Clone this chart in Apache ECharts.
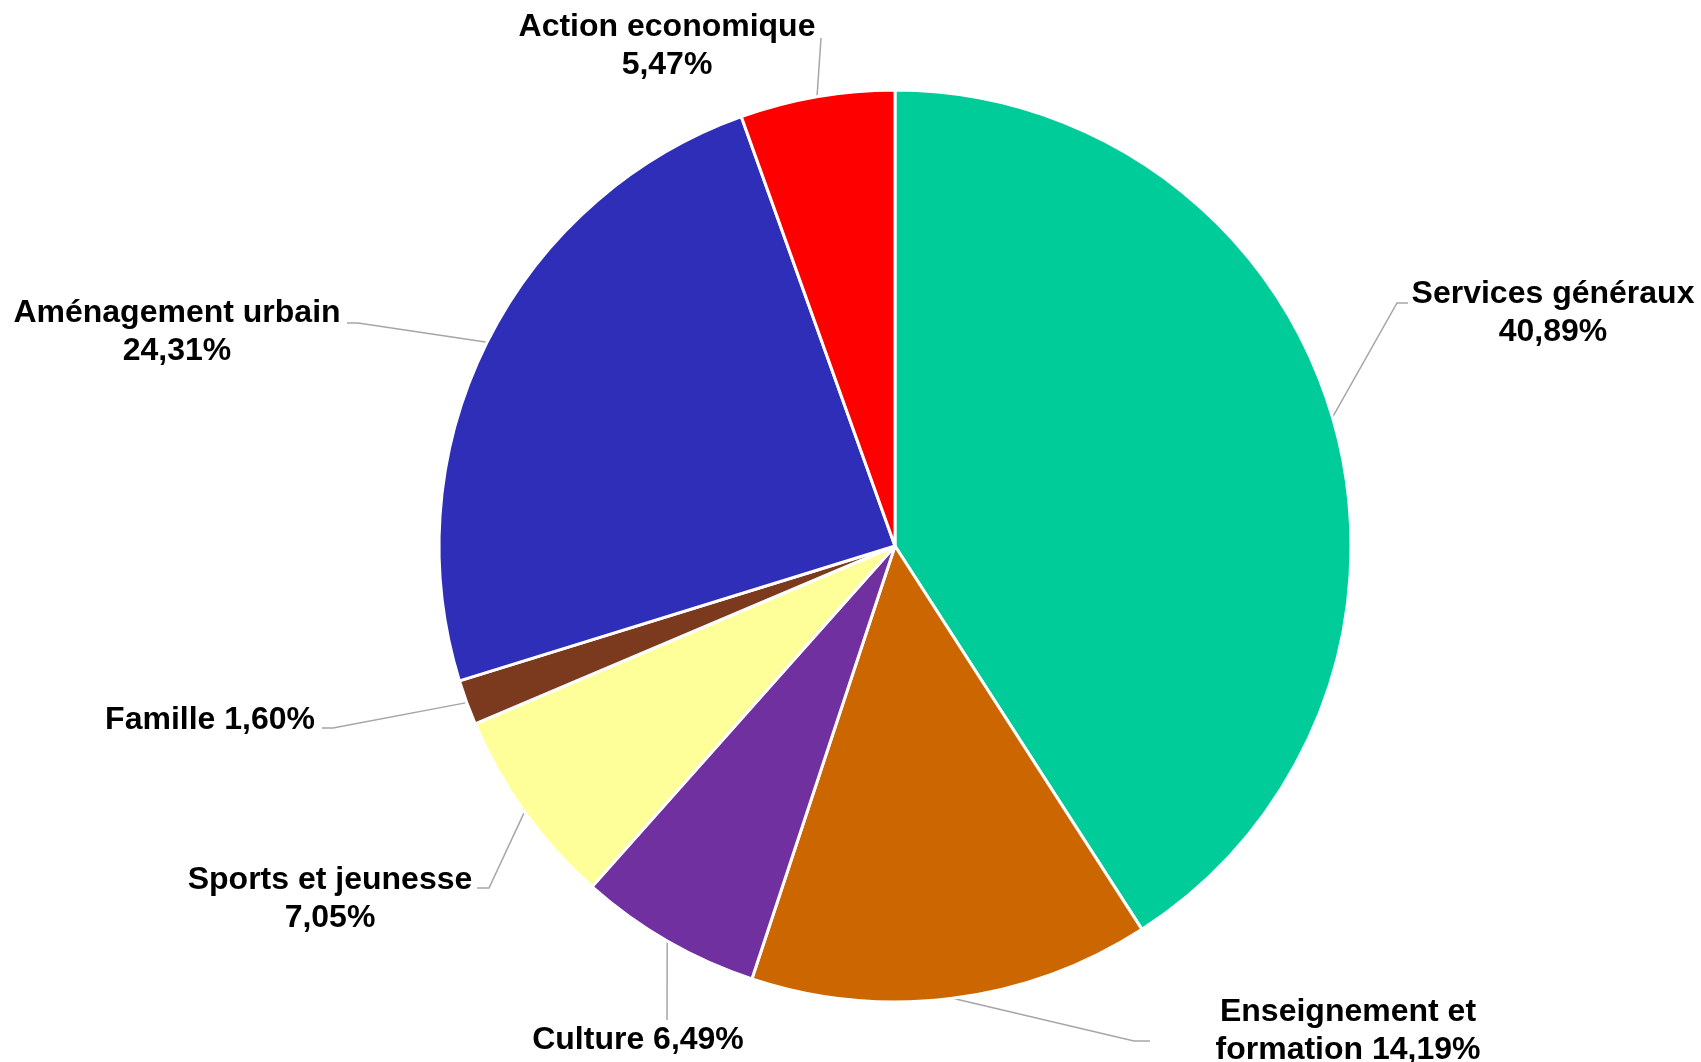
<!DOCTYPE html>
<html>
<head>
<meta charset="utf-8">
<script src="https://cdn.jsdelivr.net/npm/echarts@6/dist/echarts.min.js"></script>
<style>
  html, body { margin: 0; padding: 0; background: #ffffff; }
  #chart { width: 1701px; height: 1062px; }
</style>
</head>
<body>
<div id="chart"></div>
<script>
// ---- data ----
var categories = ['Services généraux', 'Enseignement et formation', 'Culture', 'Sports et jeunesse', 'Famille', 'Aménagement urbain', 'Action economique'];
var labelNames = ['Services généraux', 'Enseignement et\nformation', 'Culture', 'Sports et jeunesse', 'Famille', 'Aménagement urbain', 'Action economique'];
var labelSeps = ['\n', ' ', ' ', '\n', ' ', '\n', '\n'];
var values = [40.89, 14.19, 6.49, 7.05, 1.60, 24.31, 5.47];
var colors = ['#00CC99', '#CC6600', '#7030A0', '#FFFF99', '#7B3A1E', '#2E2EB8', '#FF0000'];

// ---- label placement (pixels) ----
var labelPos = [
  { x: 1553, y: 313, align: 'center', elbow: [1397, 303], end: [1408, 303] },
  { x: 1348, y: 1031, align: 'center', elbow: [1134, 1041], end: [1150, 1041] },
  { x: 638, y: 1040, align: 'center', elbow: [667, 1020], end: [667, 1020] },
  { x: 330, y: 899, align: 'center', elbow: [489, 888], end: [477, 888] },
  { x: 315, y: 720, align: 'right', elbow: [333, 728], end: [322, 728] },
  { x: 177, y: 332, align: 'center', elbow: [358, 323], end: [347, 323] },
  { x: 667, y: 46, align: 'center', elbow: [821, 38], end: [821, 38] }
];

var chart = echarts.init(document.getElementById('chart'), null, { renderer: 'canvas' });

var data = categories.map(function (c, i) {
  return { name: c, value: values[i], itemStyle: { color: colors[i] } };
});

function fmt(v) {
  return v.toFixed(2).replace('.', ',') + '%';
}

chart.setOption({
  animation: false,
  backgroundColor: '#ffffff',
  series: [{
    type: 'pie',
    center: [895, 546],
    radius: 456,
    startAngle: 90,
    clockwise: true,
    avoidLabelOverlap: false,
    data: data,
    itemStyle: { borderColor: '#ffffff', borderWidth: 3 },
    label: {
      show: true,
      position: 'outside',
      color: '#000000',
      fontFamily: 'Liberation Sans, Arial, sans-serif',
      fontWeight: 'bold',
      fontSize: 32,
      lineHeight: 38,
      formatter: function (p) {
        return labelNames[p.dataIndex] + labelSeps[p.dataIndex] + fmt(values[p.dataIndex]);
      }
    },
    labelLine: {
      show: true,
      length: 20,
      length2: 10,
      lineStyle: { color: '#A6A6A6', width: 1.5 }
    },
    labelLayout: function (params) {
      var lp = labelPos[params.dataIndex];
      var p0 = params.labelLinePoints ? params.labelLinePoints[0] : [0, 0];
      return {
        x: lp.x,
        y: lp.y,
        align: lp.align,
        verticalAlign: 'middle',
        labelLinePoints: [p0, lp.elbow, lp.end]
      };
    }
  }]
});
</script>
</body>
</html>
